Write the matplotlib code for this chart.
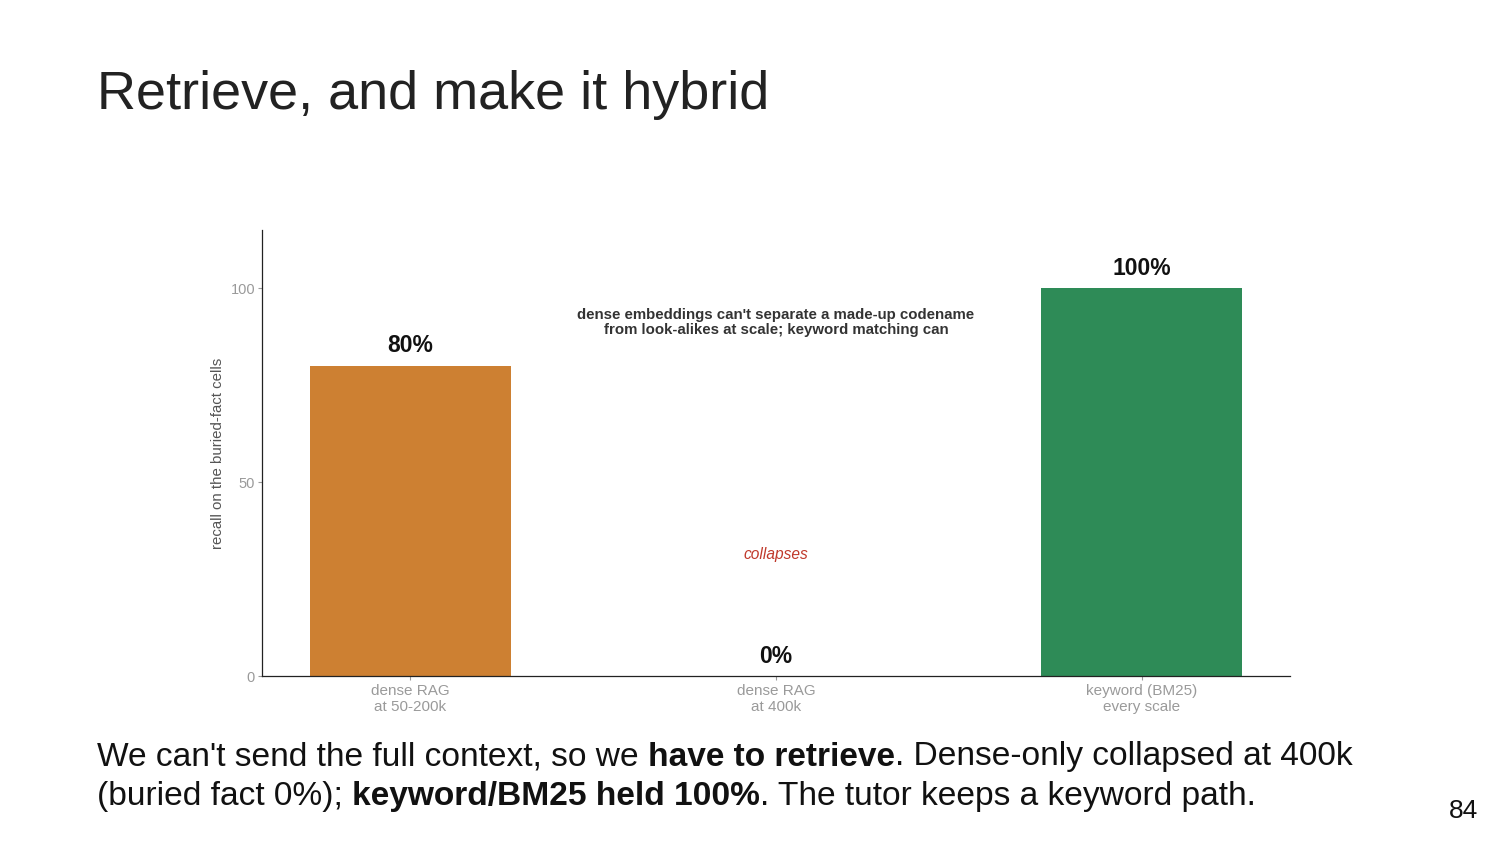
import matplotlib
matplotlib.use("Agg")
import matplotlib.pyplot as plt

plt.rcParams['font.family'] = ['Liberation Sans', 'DejaVu Sans']

categories = ["dense RAG\nat 50-200k", "dense RAG\nat 400k", "keyword (BM25)\nevery scale"]
recall = [80, 0, 100]
bar_colors = ["#CD8032", "#CD8032", "#2E8B57"]
value_labels = ["80%", "0%", "100%"]
note_text = "dense embeddings can't separate a made-up codename\nfrom look-alikes at scale; keyword matching can"
note_y = 91.2
collapse_text = "collapses"
collapse_y = 31.4

fig = plt.figure(figsize=(15, 8.44), dpi=100)
ax = fig.add_axes([0.1747, 0.199, 0.6853, 0.5285])

x = list(range(len(categories)))
ax.bar(x, recall, width=0.55, color=bar_colors)
for xi, v, lab in zip(x, recall, value_labels):
    ax.annotate(lab, (xi, v), xytext=(0, 6), textcoords="offset points",
                ha="center", va="bottom", fontsize=16.5, fontweight="bold", color="#111111")

ax.text(1, note_y, note_text, ha="center", va="center", fontsize=10.8,
        fontweight="bold", color="#333333", linespacing=1.1)
ax.text(1, collapse_y, collapse_text, ha="center", va="center", fontsize=11.2,
        style="italic", color="#C0392B")

ax.set_xlim(-0.405, 2.405)
ax.set_ylim(0, 115)
ax.set_yticks([0, 50, 100])
ax.set_xticks(x)
ax.set_xticklabels(categories, fontsize=11, color="#9a9a9a", linespacing=1.12)
ax.tick_params(axis="y", labelsize=10.5, labelcolor="#9a9a9a", color="#9a9a9a", length=3, width=0.8, pad=2)
ax.tick_params(axis="x", color="#9a9a9a", length=3, width=0.8, pad=3)
ax.set_ylabel("recall on the buried-fact cells", fontsize=10.8, color="#555555", labelpad=4)
for s in ["top", "right"]:
    ax.spines[s].set_visible(False)
for s in ["left", "bottom"]:
    ax.spines[s].set_color("#222222")
    ax.spines[s].set_linewidth(0.9)

fig.text(97 / 1500, 1 - 95 / 844, "Retrieve, and make it hybrid", fontsize=38.9,
         ha="left", va="center", color="#222222")

# body text with mixed bold
renderer = fig.canvas.get_renderer()
lines = [
    [("We can't send the full context, so we ", "normal"), ("have to retrieve", "bold"),
     (". Dense-only collapsed at 400k", "normal")],
    [("(buried fact 0%); ", "normal"), ("keyword/BM25 held 100%", "bold"),
     (". The tutor keeps a keyword path.", "normal")],
]
line_y = [1 - 757 / 844, 1 - 797 / 844]
for segs, yy in zip(lines, line_y):
    xx = 97 / 1500
    for txt, w in segs:
        t = fig.text(xx, yy, txt, fontsize=24.1, fontweight=w, ha="left", va="center", color="#111111")
        bb = t.get_window_extent(renderer=renderer)
        xx = bb.x1 / fig.bbox.width

fig.text(1464 / 1500, 1 - 811 / 844, "84", fontsize=19, ha="center", va="center", color="#111111")

fig.savefig("out.png", dpi=100)
